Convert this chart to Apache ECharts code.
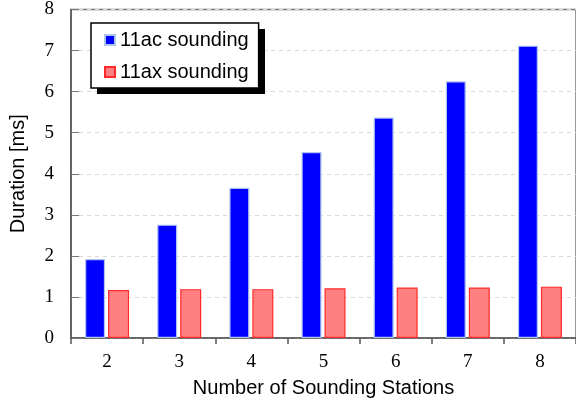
<!DOCTYPE html>
<html>
<head>
<meta charset="utf-8">
<script src="https://cdn.jsdelivr.net/npm/echarts@6/dist/echarts.min.js"></script>
<style>
  html, body { margin: 0; padding: 0; background: #fff; }
  #chart { width: 576px; height: 403px; }
</style>
</head>
<body>
<div id="chart"></div>
<script>
// Number of sounding stations on the x axis
const stations = ['2', '3', '4', '5', '6', '7', '8'];
// Sounding duration in ms
const acDuration = [1.92, 2.76, 3.66, 4.53, 5.37, 6.25, 7.12];
const axDuration = [1.17, 1.19, 1.19, 1.21, 1.23, 1.23, 1.25];
const seriesNames = ['11ac sounding', '11ax sounding'];

const sans = 'Liberation Sans, Arial, sans-serif';
const serif = 'Liberation Serif, Times New Roman, serif';

// legend box geometry (the drop shadow is a plain black rect offset behind it)
const legendBox = { left: 91, top: 23, width: 168, height: 65 };
const shadowOffset = 6;

const chart = echarts.init(document.getElementById('chart'), null, { renderer: 'canvas' });
chart.setOption({
  animation: false,
  backgroundColor: '#fff',
  grid: {
    left: 69, right: -4, top: 9, bottom: 64,
    show: true, borderColor: '#777', borderWidth: 1.5, backgroundColor: 'transparent'
  },
  graphic: [{
    type: 'rect',
    z: 3,
    shape: {
      x: legendBox.left + shadowOffset,
      y: legendBox.top + shadowOffset,
      width: legendBox.width,
      height: legendBox.height
    },
    style: { fill: '#000' }
  }],
  legend: {
    orient: 'vertical',
    left: legendBox.left, top: legendBox.top,
    width: legendBox.width,
    padding: [7, 10, 6, 13],
    itemGap: 12,
    itemWidth: 10, itemHeight: 10,
    icon: 'rect',
    z: 4,
    backgroundColor: '#fff',
    borderColor: '#000', borderWidth: 1.5,
    textStyle: { fontFamily: sans, fontSize: 20, color: '#000' },
    data: seriesNames
  },
  xAxis: {
    type: 'category',
    data: stations,
    name: 'Number of Sounding Stations',
    nameLocation: 'middle',
    nameGap: 40,
    nameTextStyle: { fontFamily: sans, fontSize: 20, color: '#000' },
    axisLine: { lineStyle: { color: '#555', width: 1.5 } },
    axisTick: { show: true, length: 6, lineStyle: { color: '#555', width: 1.5 } },
    axisLabel: { fontFamily: serif, fontSize: 19, color: '#000', margin: 15 }
  },
  yAxis: {
    type: 'value',
    min: 0, max: 8, interval: 1,
    name: 'Duration [ms]',
    nameLocation: 'middle',
    nameGap: 43,
    nameTextStyle: { fontFamily: sans, fontSize: 20, color: '#000' },
    axisLine: { show: true, lineStyle: { color: '#555', width: 1.5 } },
    axisTick: { show: true, inside: true, length: 8, lineStyle: { color: '#777', width: 1 } },
    axisLabel: { fontFamily: serif, fontSize: 19, color: '#000', margin: 17 },
    splitLine: { show: true, lineStyle: { color: '#d8d8d8', type: [4, 4], width: 1 } }
  },
  series: [
    {
      name: seriesNames[0],
      type: 'bar',
      data: acDuration,
      barWidth: 20,
      barGap: '15%',
      itemStyle: { color: '#0000ff', borderColor: '#b0c4f0', borderWidth: 1.2 }
    },
    {
      name: seriesNames[1],
      type: 'bar',
      data: axDuration,
      barWidth: 21,
      itemStyle: { color: '#ff8080', borderColor: '#ff2a2a', borderWidth: 1.2 }
    }
  ]
});
</script>
</body>
</html>
